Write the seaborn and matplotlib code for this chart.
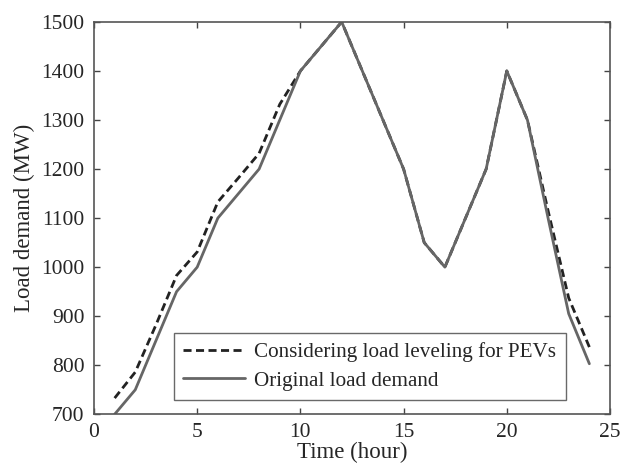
import pandas as pd
import numpy as np
import seaborn as sns
import matplotlib.pyplot as plt

hours = list(range(1, 25))
original = [700, 750, 850, 950, 1000, 1100, 1150, 1200, 1300, 1400, 1450, 1500,
            1400, 1300, 1200, 1050, 1000, 1100, 1200, 1400, 1300, 1100, 905, 803]
leveled = [733, 786, 882, 983, 1031, 1133, 1182, 1232, 1332, 1400, 1450, 1500,
           1400, 1300, 1200, 1050, 1000, 1100, 1200, 1400, 1300, 1115, 937, 837]

df = pd.DataFrame({"hour": hours, "original": original, "leveled": leveled})

sns.set_style("white")
plt.rcParams["font.family"] = ["Liberation Serif", "DejaVu Serif"]

fig = plt.figure(figsize=(6.25, 4.66), dpi=100)
ax = fig.add_axes([0.1504, 0.111, 0.8256, 0.842])

sns.lineplot(data=df, x="hour", y="leveled", ax=ax, color="#222222", lw=2,
             linestyle=(0, (2.9, 1.6)), label="Considering load leveling for PEVs")
sns.lineplot(data=df, x="hour", y="original", ax=ax, color="#666666", lw=2,
             label="Original load demand")

ax.set_xlim(0, 25)
ax.set_ylim(700, 1500)
ax.set_xticks(range(0, 26, 5))
ax.set_yticks(range(700, 1501, 100))
ax.set_xlabel("Time (hour)", fontsize=16.5, labelpad=0)
ax.set_ylabel("Load demand (MW)", fontsize=16.5, labelpad=4)
ax.tick_params(axis="both", direction="in", length=4, width=1, labelsize=15.5, top=True,
               right=True, bottom=True, left=True, color="#444444")
ax.tick_params(axis="y", pad=7)
ax.tick_params(axis="x", pad=6)
for s in ax.spines.values():
    s.set_color("#555555")
    s.set_linewidth(1.2)

leg = ax.legend(loc="lower left", bbox_to_anchor=(0.155, 0.036), fontsize=15.2,
                frameon=True, fancybox=False, handlelength=2.9, borderpad=0.45,
                labelspacing=0.4, handletextpad=0.45, borderaxespad=0)
leg.get_frame().set_edgecolor("#444444")
leg.get_frame().set_linewidth(1.0)

fig.savefig("out.png", dpi=100)
